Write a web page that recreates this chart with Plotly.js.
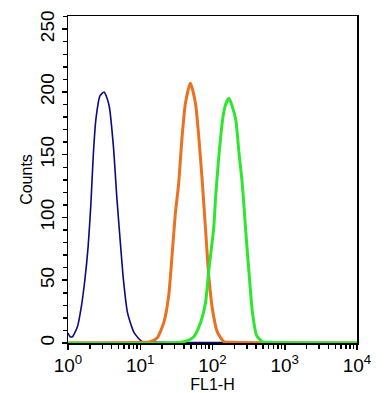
<!DOCTYPE html>
<html>
<head>
<meta charset="utf-8">
<script src="https://cdn.plot.ly/plotly-3.0.1.min.js"></script>
<style>
html,body{margin:0;padding:0;background:#fff;}
#chart{width:386px;height:393px;}
</style>
</head>
<body>
<div id="chart"></div>
<script>
// FL1-H channel values and counts
var blueX = [1.00, 1.07, 1.15, 1.35, 1.53, 1.71, 1.90, 2.07, 2.24, 2.43, 2.78, 3.16, 3.37, 3.71, 4.26, 4.74, 5.27, 5.86, 6.67, 8.26, 10.7, 13.3, 20, 60, 150, 200, 10000];
var blueY = [8, 5, 5, 13, 29, 50, 77, 110, 150, 178, 197, 200, 197, 189, 156, 116, 82, 50, 24, 8, 1, 1, 0.5, 0.3, 0.3, 0, 0];

var orangeX = [1, 11.0, 13.8, 17.1, 21.1, 24.7, 27.5, 30.6, 34.0, 37.9, 42.2, 49.4, 58.1, 64.6, 71.9, 80.0, 88.9, 99.1, 116, 144, 178, 10000];
var orangeY = [0, 0.5, 1, 4, 16, 37, 69, 103, 127, 164, 191, 207, 191, 164, 130, 91, 53, 28, 9, 1, 0.5, 0];

var greenX = [1, 39.9, 55.0, 68.1, 80.0, 88.9, 104, 111, 123, 138, 152, 169, 208, 232, 259, 287, 319, 356, 408, 490, 600, 10000];
var greenY = [0, 1, 5, 16, 32, 58, 92, 118, 150, 178, 190, 195, 179, 152, 126, 91, 57, 25, 6, 1, 0.5, 0];

var xTickVals = [1, 10, 100, 1000, 10000];
var xTickText = ['10<sup>0</sup>', '10<sup>1</sup>', '10<sup>2</sup>', '10<sup>3</sup>', '10<sup>4</sup>'];
var yTickVals = [0, 50, 100, 150, 200, 250];

var minorX = [];
for (var d = 0; d < 4; d++) { for (var m = 2; m <= 9; m++) { minorX.push(m * Math.pow(10, d)); } }

var traces = [
  {x: blueX, y: blueY, type: 'scatter', mode: 'lines', line: {color: '#0a0a82', width: 1.6, shape: 'spline', smoothing: 0.6}, hoverinfo: 'skip'},
  {x: orangeX, y: orangeY, type: 'scatter', mode: 'lines', line: {color: '#e9711f', width: 3, shape: 'spline', smoothing: 0.6}, hoverinfo: 'skip'},
  {x: greenX, y: greenY, type: 'scatter', mode: 'lines', line: {color: '#2fe62f', width: 3, shape: 'spline', smoothing: 0.6}, hoverinfo: 'skip'}
];

var fam = 'Liberation Sans, Arial, sans-serif';

var layout = {
  width: 386, height: 393,
  margin: {l: 68, r: 29, t: 16, b: 50},
  paper_bgcolor: '#fff', plot_bgcolor: '#fff',
  showlegend: false,
  font: {family: fam, size: 15, color: '#000'},
  xaxis: {
    type: 'log', range: [0, 4],
    tickmode: 'array', tickvals: xTickVals, ticktext: xTickText,
    ticks: 'outside', ticklen: 5, tickwidth: 1.5, tickcolor: '#000',
    minor: {tickvals: minorX, ticks: 'outside', ticklen: 4, tickwidth: 1.5, tickcolor: '#000'},
    showline: true, linecolor: '#000', linewidth: 1.5, mirror: true,
    showgrid: false, zeroline: false,
    tickfont: {family: fam, size: 19, color: '#000'},
    title: {text: 'FL1-H', font: {family: fam, size: 16, color: '#000'}, standoff: 0}
  },
  yaxis: {
    range: [0, 260.5],
    tickmode: 'array', tickvals: yTickVals, tickangle: -90,
    ticks: 'outside', ticklen: 5, tickwidth: 1.5, tickcolor: '#000',
    minor: {dtick: 10, ticks: 'outside', ticklen: 4, tickwidth: 1.5, tickcolor: '#000', showgrid: false},
    showline: true, linecolor: '#000', linewidth: 1.5, mirror: true,
    showgrid: false, zeroline: false,
    tickfont: {family: fam, size: 19, color: '#000'},
    title: {text: 'Counts', font: {family: fam, size: 16, color: '#000'}, standoff: 0}
  }
};

Plotly.newPlot('chart', traces, layout, {staticPlot: true, displayModeBar: false});
</script>
</body>
</html>
